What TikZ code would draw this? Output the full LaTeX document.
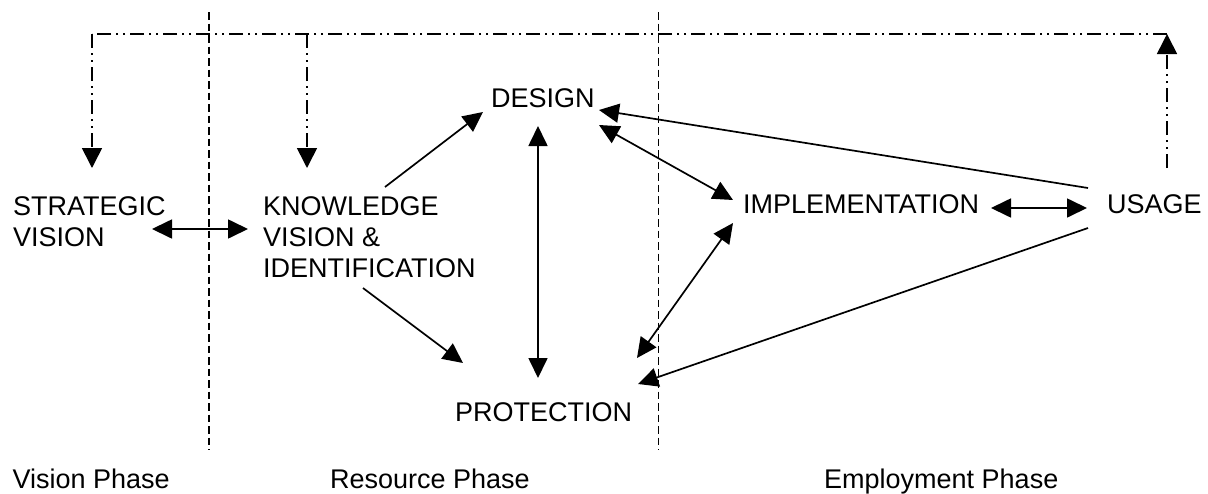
\documentclass[tikz,border=0pt]{standalone}
\usepackage{fontspec}
\setmainfont{Liberation Sans}
\usetikzlibrary{arrows.meta}
\begin{document}
\begin{tikzpicture}[x=1pt,y=-1pt,
  lbl/.style={inner sep=0pt, anchor=north west, align=left, font=\fontsize{27}{31}\selectfont},
  phase/.style={inner sep=0pt, anchor=north west, font=\fontsize{27}{31}\selectfont},
  conn/.style={line width=1.7pt, -{Triangle[length=20pt,width=19pt]}},
  dconn/.style={line width=1.7pt, {Triangle[length=20pt,width=19pt]}-{Triangle[length=20pt,width=19pt]}},
  ddline/.style={line width=1.6pt, dash pattern=on 14pt off 5pt on 2pt off 5pt on 2pt off 5pt},
  ddarrow/.style={ddline, -{Triangle[length=20pt,width=20pt]}},
  sepline/.style={line width=1.6pt, dash pattern=on 7.5pt off 4pt}]
\useasboundingbox (0,0) rectangle (1208,493);
% phase separators
\coordinate (s1t) at (209,12); \coordinate (s1b) at (209,450);
\coordinate (s2t) at (658.5,12); \coordinate (s2b) at (658.5,450);
\draw[sepline] (s1t) -- (s1b);
\draw[sepline] (s2t) -- (s2b);
% nodes
\node[lbl] (sv) at (13,196) {STRATEGIC\\VISION};
\node[lbl] (kv) at (263,196) {KNOWLEDGE\\VISION \&\\IDENTIFICATION};
\node[lbl] (de) at (491,88) {DESIGN};
\node[lbl] (im) at (743,194) {IMPLEMENTATION};
\node[lbl] (us) at (1107,194) {USAGE};
\node[lbl] (pr) at (455,402) {PROTECTION};
\node[phase] (vp) at (12.5,469) {Vision Phase};
\node[phase] (rp) at (330,469) {Resource Phase};
\node[phase] (ep) at (824,469) {Employment Phase};
% feedback loop (dash-dot-dot)
\coordinate (tl) at (92,34);
\coordinate (tk) at (307,34);
\coordinate (tr) at (1167,34);
\draw[ddarrow] ([shift={(60,-26)}]us.north west) -- (tr);
\draw[ddline] (tr) -- (tl);
\draw[ddarrow] (tl) -- ([shift={(79,-28)}]sv.north west);
\draw[ddarrow] (tk) -- ([shift={(44,-28)}]kv.north west);
% solid connectors
\draw[dconn] ([shift={(139,33)}]sv.north west) -- ([shift={(-15,33)}]kv.north west);
\draw[conn] ([shift={(122,-9)}]kv.north west) -- ([shift={(-8,24)}]de.north west);
\draw[conn] ([shift={(100,92)}]kv.north west) -- ([shift={(8,-39)}]pr.north west);
\draw[dconn] ([shift={(47,38)}]de.north west) -- ([shift={(83,-24)}]pr.north west);
\draw[dconn] ([shift={(108,37)}]de.north west) -- ([shift={(-10,6)}]im.north west);
\draw[dconn] ([shift={(-10,29)}]im.north west) -- ([shift={(182,-44)}]pr.north west);
\draw[conn] ([shift={(-19,-6)}]us.north west) -- ([shift={(108,22)}]de.north west);
\draw[conn] ([shift={(-19,34)}]us.north west) -- ([shift={(183,-18)}]pr.north west);
\draw[dconn] ([shift={(248,14)}]im.north west) -- ([shift={(-20,14)}]us.north west);
\end{tikzpicture}
\end{document}
